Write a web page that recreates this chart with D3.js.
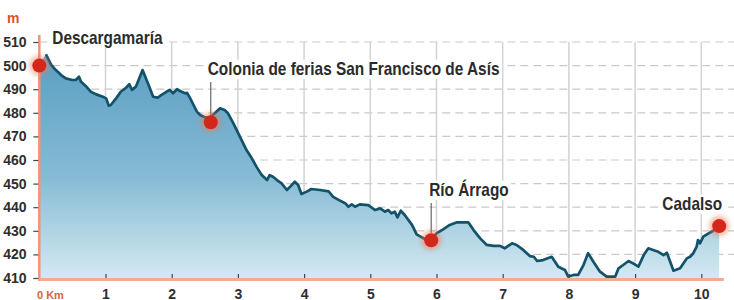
<!DOCTYPE html>
<html><head><meta charset="utf-8">
<script src="https://cdn.jsdelivr.net/npm/d3@7"></script>
<style>
html,body{margin:0;padding:0;background:#fff;}
svg{display:block;}
</style></head>
<body>
<svg id="chart" width="734" height="300"></svg>
<script>
// ---- data ----
const km = [0,0.10,0.18,0.25,0.33,0.40,0.50,0.55,0.60,0.63,0.71,0.78,0.86,0.96,1.01,1.05,1.08,1.16,1.23,1.31,1.36,1.40,1.46,1.51,1.56,1.61,1.66,1.72,1.79,1.84,1.92,1.97,2.02,2.08,2.15,2.20,2.23,2.28,2.33,2.38,2.43,2.50,2.58,2.65,2.73,2.80,2.85,2.93,3.03,3.13,3.21,3.28,3.36,3.44,3.48,3.53,3.59,3.66,3.74,3.79,3.86,3.91,3.96,4.04,4.11,4.24,4.37,4.44,4.52,4.62,4.67,4.72,4.77,4.84,4.97,5.07,5.15,5.22,5.27,5.32,5.37,5.41,5.46,5.52,5.63,5.70,5.78,5.85,5.93,6.00,6.10,6.20,6.31,6.48,6.56,6.66,6.76,6.86,6.96,7.03,7.14,7.21,7.31,7.41,7.47,7.52,7.61,7.74,7.79,7.84,7.94,7.99,8.07,8.14,8.22,8.29,8.37,8.47,8.57,8.70,8.75,8.82,8.90,8.97,9.05,9.13,9.20,9.27,9.35,9.43,9.48,9.58,9.68,9.78,9.83,9.88,9.93,9.95,9.98,10.03,10.11,10.18,10.27];
const elev = [500,504.8,500.3,498.1,496.0,494.6,493.9,493.9,495.3,493.2,491.1,488.9,487.8,486.8,486.1,483.0,483.3,486.1,488.9,490.6,492.1,489.7,491.1,494.6,498.1,494.6,491.1,486.8,486.4,487.5,488.9,489.7,488.3,490.0,488.9,488.3,488.5,486.1,483.3,480.5,479.1,478.1,478.1,479.8,481.9,481.2,479.8,475.6,469.9,464.2,460.7,457.2,453.6,451.5,453.6,452.9,451.5,450.1,447.3,448.7,450.8,449.4,445.6,446.6,447.7,447.3,446.7,444.4,443.1,441.7,440.2,441.2,440.2,441.2,440.9,438.8,439.5,438.1,438.8,437.4,438.1,435.7,438.5,436.7,432.5,428.5,427.2,426.1,426.8,428.9,430.6,432.5,433.6,433.6,430.3,426.8,424.0,423.6,423.6,422.6,424.7,424.0,421.9,419.3,419.0,417.2,417.6,419.0,416.9,414.8,413.4,410.6,411.3,411.3,415.5,420.5,416.9,412.7,410.6,410.6,414.1,415.5,417.2,416.2,414.8,419.7,422.6,421.9,421.1,419.7,420.7,413.1,414.1,418.3,419.0,420.5,423.3,426.1,424.7,427.5,428.9,430.0,432.0];
const yTicks = [410,420,430,440,450,460,470,480,490,500,510];
const xTicks = [1,2,3,4,5,6,7,8,9,10];
const places = ["Descargamaría","Colonia de ferias San Francisco de Asís","Río Árrago","Cadalso"];
const placeKm = [0, 2.59, 5.92, 10.27];
const placeElev = [500, 476, 426, 432];

// ---- layout ----
const svg = d3.select("#chart");
const x = d3.scaleLinear().domain([0,10]).range([39.3,701.3]);
const y = d3.scaleLinear().domain([410,510]).range([278,42]);
const pts = km.map((k,i)=>({k, e:elev[i]}));

const defs = svg.append("defs");
const grad = defs.append("linearGradient").attr("id","fillGrad")
  .attr("gradientUnits","userSpaceOnUse").attr("x1",0).attr("x2",0)
  .attr("y1",y(505)).attr("y2",y(410));
grad.append("stop").attr("offset","0%").attr("stop-color","#5a9ec2");
grad.append("stop").attr("offset","55%").attr("stop-color","#86bbd5");
grad.append("stop").attr("offset","100%").attr("stop-color","#d3e9f1");
const blur = defs.append("filter").attr("id","glow").attr("x","-100%").attr("y","-100%").attr("width","300%").attr("height","300%");
blur.append("feGaussianBlur").attr("stdDeviation",2.5);

// grid
const X0 = 39.3, XR = 734;
svg.append("g").selectAll("line").data(yTicks.filter(v=>v>410)).join("line")
  .attr("x1",X0).attr("x2",XR).attr("y1",d=>y(d)).attr("y2",d=>y(d))
  .attr("stroke","#c9c9c9").attr("stroke-width",1.2).attr("stroke-dasharray","8,5");
svg.append("g").selectAll("line").data(xTicks).join("line")
  .attr("x1",d=>x(d)).attr("x2",d=>x(d)).attr("y1",y(510)).attr("y2",y(410))
  .attr("stroke","#d2d2d2").attr("stroke-width",1.5);

// area + line
svg.append("path").datum(pts)
  .attr("d", d3.area().x(d=>x(d.k)).y0(y(410)).y1(d=>y(d.e)))
  .attr("fill","url(#fillGrad)");
svg.append("path").datum(pts.slice(1))
  .attr("d", d3.line().x(d=>x(d.k)).y(d=>y(d.e)))
  .attr("fill","none").attr("stroke","#14526a").attr("stroke-width",2.7).attr("stroke-linejoin","round");

// axes lines
svg.append("line").attr("x1",X0).attr("x2",X0).attr("y1",35).attr("y2",281)
  .attr("stroke","#ef9674").attr("stroke-width",2.5);
svg.append("line").attr("x1",X0).attr("x2",x(10.34)).attr("y1",279.5).attr("y2",279.5)
  .attr("stroke","#f0ab93").attr("stroke-width",3);

const FONT = "'Liberation Sans',Arial,sans-serif";
// y axis
const yAxis = svg.append("g").attr("transform",`translate(${X0-1},0)`)
  .call(d3.axisLeft(y).tickValues(yTicks).tickSize(5).tickPadding(3));
yAxis.select(".domain").remove();
yAxis.selectAll(".tick line").attr("stroke","#444").attr("stroke-width",1.2);
yAxis.selectAll(".tick text").attr("text-anchor","start").attr("x",-35)
  .attr("fill","#2e2e2e").style("font-family",FONT)
  .style("font-size","14px").style("font-weight","bold");

// x axis
const xAxis = svg.append("g").attr("transform",`translate(0,${y(410)})`)
  .call(d3.axisBottom(x).tickValues(xTicks).tickSize(0).tickPadding(0));
xAxis.select(".domain").remove();
xAxis.selectAll(".tick").append("line").attr("y1",-4).attr("y2",0).attr("stroke","#444").attr("stroke-width",1.2);
xAxis.selectAll(".tick text").attr("dy",null).attr("y",20.5).attr("fill","#2e2e2e")
  .style("font-family",FONT).style("font-size","14px").style("font-weight","bold");

svg.append("text").attr("x",37).attr("y",298.5).text("0 Km")
  .attr("fill","#e0603a").style("font-family",FONT)
  .style("font-size","11px").style("font-weight","bold");
svg.append("text").attr("x",7).attr("y",23).text("m")
  .attr("fill","#d9532e").style("font-family",FONT)
  .style("font-size","14px").style("font-weight","bold");

// labels
const labelOff = [[13,-22,"start"],[-3,-47.5,"start"],[-2,-44.5,"start"],[3,-16.5,"end"]];
const leaders = [null,[82,-7],[203,-7],null];
places.forEach((name,i)=>{
  const mx = x(placeKm[i]), my = y(placeElev[i]);
  const g = svg.append("g").attr("transform",`translate(${mx+labelOff[i][0]},${my+labelOff[i][1]}) scale(0.855,1)`);
  const t = g.append("text").attr("x",0).attr("y",0)
    .attr("text-anchor",labelOff[i][2]).text(name).attr("fill","#2b2b2b")
    .style("font-family",FONT)
    .style("font-size","18px").style("font-weight","bold");
  const bb = t.node().getBBox();
  g.insert("rect","text").attr("x",bb.x-3).attr("y",bb.y+1).attr("width",bb.width+6).attr("height",bb.height-1).attr("fill","#fff");
  if (leaders[i]) {
    svg.append("line").attr("x1",mx).attr("x2",mx).attr("y1",leaders[i][0]).attr("y2",my+leaders[i][1])
      .attr("stroke","#666").attr("stroke-width",1.2);
  }
});
// markers
const mk = svg.append("g").selectAll("g").data(places).join("g")
  .attr("transform",(d,i)=>`translate(${x(placeKm[i])},${y(placeElev[i])})`);
mk.append("circle").attr("r",10).attr("fill","#f07a55").attr("opacity",0.55).attr("filter","url(#glow)");
mk.append("circle").attr("r",7).attr("fill","#d3271c");
</script>
</body></html>
